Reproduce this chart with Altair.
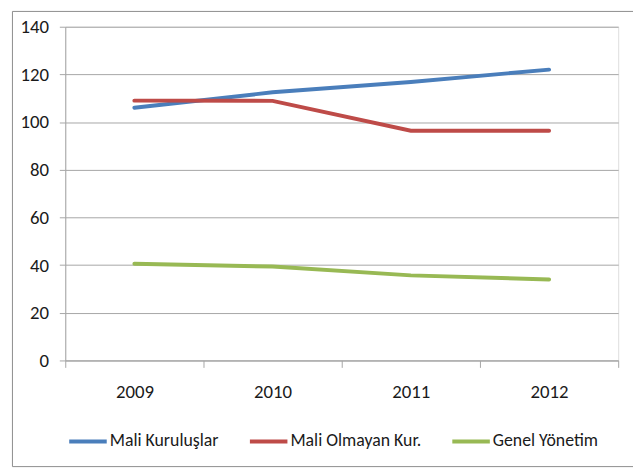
import altair as alt
import pandas as pd

years = ["2009", "2010", "2011", "2012"]
series_names = ["Mali Kuruluşlar", "Mali Olmayan Kur.", "Genel Yönetim"]
mali_kuruluslar = [106.0, 112.5, 116.8, 122.0]
mali_olmayan = [109.0, 108.9, 96.4, 96.4]
genel_yonetim = [40.6, 39.4, 35.7, 34.0]
colors = ["#4a7ebb", "#be4b48", "#98b954"]

rows = []
for name, vals in zip(series_names, [mali_kuruluslar, mali_olmayan, genel_yonetim]):
    for y, v in zip(years, vals):
        rows.append({"Yıl": y, "Seri": name, "Değer": v})
df = pd.DataFrame(rows)

FONT = "Carlito, Lato, sans-serif"
GRID = "#a6a6a6"
FS = 19

lines = alt.Chart(df).mark_line(strokeWidth=4, interpolate="linear", strokeCap="round").encode(
    x=alt.X(
        "Yıl:O",
        sort=years,
        scale=alt.Scale(type="band", paddingInner=0, paddingOuter=0),
        axis=alt.Axis(
            title=None, labelAngle=0, tickBand="extent", tickSize=7,
            labelPadding=16, grid=False, domainColor=GRID, tickColor=GRID,
            labelFontSize=FS, labelFont=FONT, labelColor="#1a1a1a",
        ),
    ),
    y=alt.Y(
        "Değer:Q",
        scale=alt.Scale(domain=[0, 140], nice=False),
        axis=alt.Axis(
            title=None, values=[0, 20, 40, 60, 80, 100, 120, 140], tickSize=6,
            labelPadding=11, gridColor=GRID, domainColor=GRID, tickColor=GRID,
            labelFontSize=FS, labelFont=FONT, labelColor="#1a1a1a",
        ),
    ),
    color=alt.Color(
        "Seri:N",
        sort=series_names,
        scale=alt.Scale(domain=series_names, range=colors),
        legend=alt.Legend(
            title=None, orient="none", direction="horizontal",
            legendX=2, legendY=399, symbolType="stroke", symbolSize=1444,
            symbolStrokeWidth=4, labelOffset=1, columnPadding=23, padding=0,
            gridAlign="none",
            labelFontSize=18, labelFont=FONT, labelColor="#1a1a1a",
        ),
    ),
)

frame = alt.Chart(alt.Data(values=[{}])).mark_rect(
    filled=False, stroke="#8c8c8c", strokeWidth=1
).encode(
    x=alt.value(-53.5), x2=alt.value(590), y=alt.value(-15.5), y2=alt.value(445.5)
)

chart = alt.layer(frame, lines).properties(
    width=560, height=338,
    autosize=alt.AutoSizeParams(type="none"),
    padding={"left": 58, "top": 16, "right": 15, "bottom": 110},
).configure_view(stroke=None).configure(background="white")

chart.save("out.html", embed_options={"renderer": "svg", "actions": False})
